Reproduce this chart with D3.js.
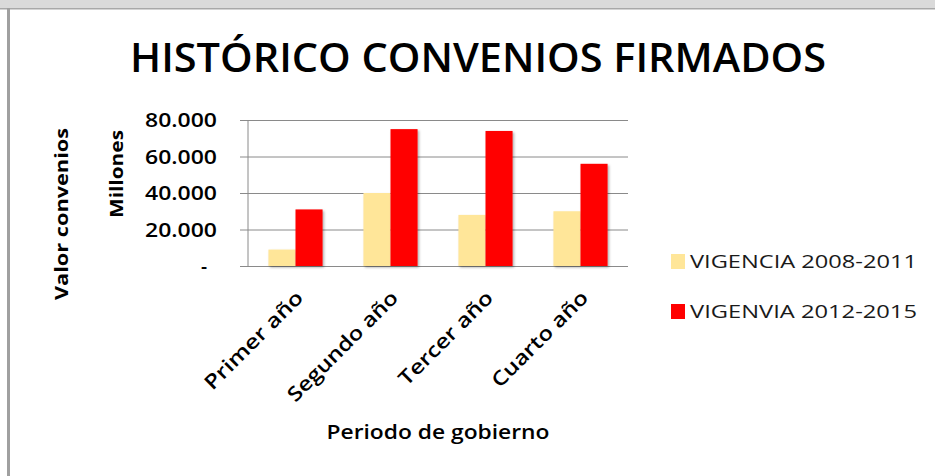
<!DOCTYPE html>
<meta charset="utf-8">
<title>Histórico convenios firmados</title>
<style>
    body { margin: 0; background: #fff; }
    svg { display: block; }
    .grid line { stroke: #8a8a8a; stroke-width: 1px; }
    .txt { font-family: "Open Sans", Arial, sans-serif; fill: #000; }
</style>
<body>
<div id="my_chart"></div>
<script src="https://cdn.jsdelivr.net/npm/d3@7"></script>
<script>
    // data (values in millions)
    var categories = ["Primer año", "Segundo año", "Tercer año", "Cuarto año"];
    var seriesNames = ["VIGENCIA 2008-2011", "VIGENVIA 2012-2015"];
    var vigencia2008 = [9000, 40000, 28000, 30000];
    var vigencia2012 = [31000, 75000, 74000, 56000];
    var yTicks = [0, 20000, 40000, 60000, 80000];
    var colors = ["#ffe699", "#ff0000"];

    var W = 935, H = 476;
    var plot = { left: 248, right: 628, top: 120, bottom: 266 };

    var svg = d3.select("#my_chart").append("svg")
        .attr("width", W).attr("height", H);

    // window frame
    svg.append("rect").attr("x", 0).attr("y", 0).attr("width", W).attr("height", 8).attr("fill", "#dadada");
    svg.append("rect").attr("x", 0).attr("y", 8).attr("width", W).attr("height", 1.5).attr("fill", "#a8a8a8");
    svg.append("rect").attr("x", 7).attr("y", 8).attr("width", 3).attr("height", H - 8).attr("fill", "#a0a0a0");

    // drop shadow for bars
    var f = svg.append("defs").append("filter").attr("id", "shadow")
        .attr("x", "-20%").attr("y", "-10%").attr("width", "150%").attr("height", "130%");
    f.append("feDropShadow").attr("dx", 1.5).attr("dy", 1.5).attr("stdDeviation", 1.2)
        .attr("flood-color", "#000").attr("flood-opacity", 0.3);

    // scales
    var x = d3.scaleBand().domain(categories).range([plot.left, plot.right])
        .paddingInner(0.43).paddingOuter(0.215);
    var xs = d3.scaleBand().domain([0, 1]).range([0, x.bandwidth()]);
    var y = d3.scaleLinear().domain([0, 80000]).range([plot.bottom, plot.top]);

    // gridlines
    svg.append("g").attr("class", "grid")
        .attr("transform", "translate(" + plot.left + ",0)")
        .call(d3.axisLeft(y).tickValues(yTicks).tickSize(-(plot.right - plot.left)).tickFormat(""))
        .call(function (g) { g.select(".domain").remove(); })
        .selectAll("line").attr("x1", -8).attr("x2", plot.right - plot.left);
    svg.append("line").attr("x1", plot.left).attr("x2", plot.left)
        .attr("y1", plot.top).attr("y2", plot.bottom).attr("stroke", "#8a8a8a");

    // y tick labels
    var fmt = function (d) { return d === 0 ? "-" : d3.format(",")(d).replace(/,/g, "."); };
    svg.append("g").selectAll("text").data(yTicks).join("text")
        .attr("class", "txt")
        .attr("x", function (d) { return d === 0 ? 207 : 217; })
        .attr("y", function (d) { return y(d) + 7; })
        .attr("text-anchor", "end")
        .attr("font-size", "19px").attr("font-weight", "600")
        .attr("textLength", function (d) { return d === 0 ? null : 72; })
        .attr("lengthAdjust", "spacingAndGlyphs")
        .text(fmt);

    // bars
    var table = categories.map(function (c, i) { return [vigencia2008[i], vigencia2012[i]]; });
    var groups = svg.append("g").selectAll("g").data(table).join("g")
        .attr("transform", function (d, i) { return "translate(" + x(categories[i]) + ",0)"; });
    groups.selectAll("rect").data(function (d) { return d; }).join("rect")
        .attr("x", function (d, j) { return xs(j); })
        .attr("y", function (d) { return y(d); })
        .attr("width", xs.bandwidth())
        .attr("height", function (d) { return y(0) - y(d); })
        .attr("fill", function (d, j) { return colors[j]; })
        .attr("filter", "url(#shadow)");

    // x labels (rotated)
    var xLen = [130, 147, 124, 127];
    svg.append("g").selectAll("text").data(categories).join("text")
        .attr("class", "txt")
        .attr("font-size", "20px").attr("font-weight", "600")
        .attr("text-anchor", "end")
        .attr("textLength", function (d, i) { return xLen[i]; })
        .attr("lengthAdjust", "spacingAndGlyphs")
        .attr("transform", function (d) {
            return "translate(" + (x(d) + x.bandwidth() / 2 + 9) + ",299) rotate(-45)";
        })
        .text(function (d) { return d; });

    // title
    svg.append("text").attr("class", "txt")
        .attr("x", 478).attr("y", 72).attr("text-anchor", "middle")
        .attr("font-size", "40px").attr("font-weight", "600")
        .attr("textLength", 696).attr("lengthAdjust", "spacingAndGlyphs")
        .text("HISTÓRICO CONVENIOS FIRMADOS");

    // axis titles
    svg.append("text").attr("class", "txt")
        .attr("transform", "translate(438,439)").attr("text-anchor", "middle")
        .attr("font-size", "19px").attr("font-weight", "600")
        .attr("textLength", 223).attr("lengthAdjust", "spacingAndGlyphs")
        .text("Periodo de gobierno");
    svg.append("text").attr("class", "txt")
        .attr("transform", "translate(123,174) rotate(-90)").attr("text-anchor", "middle")
        .attr("font-size", "17px").attr("font-weight", "bold")
        .attr("textLength", 88).attr("lengthAdjust", "spacingAndGlyphs")
        .text("Millones");
    svg.append("text").attr("class", "txt")
        .attr("transform", "translate(68,214) rotate(-90)").attr("text-anchor", "middle")
        .attr("font-size", "17px").attr("font-weight", "bold")
        .attr("textLength", 172).attr("lengthAdjust", "spacingAndGlyphs")
        .text("Valor convenios");

    // legend
    var legend = svg.append("g").selectAll("g").data(seriesNames).join("g")
        .attr("transform", function (d, i) { return "translate(671," + (254 + i * 50) + ")"; });
    legend.append("rect").attr("width", 14).attr("height", 15)
        .attr("fill", function (d, i) { return colors[i]; });
    legend.append("text").attr("class", "txt")
        .attr("x", 19).attr("y", 14)
        .attr("font-size", "18px").style("fill", "#1a1a1a")
        .attr("textLength", 227).attr("lengthAdjust", "spacingAndGlyphs")
        .text(function (d) { return d; });
</script>
</body>
